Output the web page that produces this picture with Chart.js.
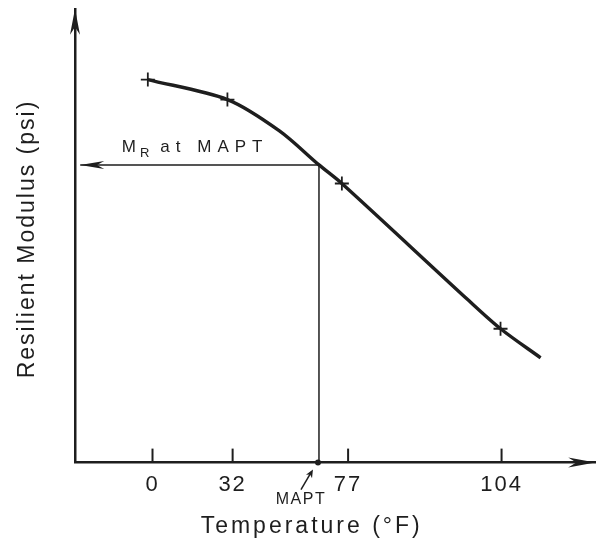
<!DOCTYPE html>
<html>
<head>
<meta charset="utf-8">
<script src="https://cdn.jsdelivr.net/npm/chart.js@4.4.1/dist/chart.umd.min.js"></script>
<style>
  html, body { margin: 0; padding: 0; background: #ffffff; }
  #wrap { width: 604px; height: 547px; position: relative; }
</style>
</head>
<body>
<div id="wrap"><canvas id="c" width="604" height="547"></canvas></div>
<script>
// ---- Data (schematic axis units 0..100) ----
const tempLabels   = ['0', '32', '77', '104'];        // test temperatures (°F)
const tickPos      = [14.9, 30.3, 52.5, 82.0];        // where those labels sit on the schematic axis
const testX        = [14.0, 29.3, 51.3, 81.8];        // test points (+)
const testMR       = [84.4, 80.0, 61.5, 29.5];
const curveX       = [14.0, 29.3, 39.3, 46.9, 51.3, 75.7, 81.8, 89.5];   // fitted M_R–temperature curve
const curveMR      = [84.4, 80.0, 73.1, 65.6, 61.5, 35.7, 29.5, 23.1];
const maptX        = 46.9;                             // MAPT position
const maptMR       = 65.6;                             // M_R at MAPT

const INK = '#1e1e1e';
const FONT = '"Liberation Sans", Arial, Helvetica, sans-serif';

const curvePts = curveX.map((x, i) => ({ x, y: curveMR[i] }));
const testPts  = testX.map((x, i) => ({ x, y: testMR[i] }));
const guidePts = [{ x: 1, y: maptMR }, { x: maptX, y: maptMR }, { x: maptX, y: 0 }];

function arrowHead(ctx, tx, ty, angle, len, halfW) {
  ctx.save();
  ctx.translate(tx, ty);
  ctx.rotate(angle);
  ctx.beginPath();
  ctx.moveTo(0, 0);
  ctx.lineTo(-len, -halfW);
  ctx.lineTo(-len * 0.7, 0);
  ctx.lineTo(-len, halfW);
  ctx.closePath();
  ctx.fillStyle = INK;
  ctx.fill();
  ctx.restore();
}

const decor = {
  id: 'decor',
  beforeDraw(chart) {
    const ctx = chart.ctx;
    ctx.save();
    ctx.fillStyle = '#ffffff';
    ctx.fillRect(0, 0, chart.width, chart.height);
    ctx.restore();
    ctx.letterSpacing = '2px';
  },
  afterDraw(chart) {
    const ctx = chart.ctx;
    const xs = chart.scales.x, ys = chart.scales.y;
    const x0 = xs.getPixelForValue(0), y0 = ys.getPixelForValue(0);
    ctx.save();
    // axis arrowheads
    arrowHead(ctx, x0, ys.getPixelForValue(100), -Math.PI / 2, 26, 5);
    arrowHead(ctx, xs.getPixelForValue(100), y0, 0, 27, 5);
    // inner tick marks
    ctx.strokeStyle = INK;
    ctx.lineWidth = 2;
    tickPos.forEach(v => {
      const px = xs.getPixelForValue(v);
      ctx.beginPath();
      ctx.moveTo(px, y0);
      ctx.lineTo(px, y0 - 14);
      ctx.stroke();
    });
    // M_R arrow at the y axis
    const mx = xs.getPixelForValue(maptX), my = ys.getPixelForValue(maptMR);
    arrowHead(ctx, xs.getPixelForValue(1), my, Math.PI, 24, 4);
    // dot at MAPT on the axis
    ctx.beginPath();
    ctx.arc(mx - 1, y0, 3, 0, Math.PI * 2);
    ctx.fillStyle = INK;
    ctx.fill();
    // small arrow pointing to MAPT
    ctx.lineWidth = 1.5;
    ctx.beginPath();
    ctx.moveTo(mx - 18, y0 + 27);
    ctx.lineTo(mx - 8, y0 + 10);
    ctx.stroke();
    arrowHead(ctx, mx - 6, y0 + 7, -Math.PI / 3, 8, 3.5);

    ctx.fillStyle = INK;
    ctx.textBaseline = 'alphabetic';
    // "M_R at MAPT"
    ctx.letterSpacing = '6px';
    ctx.textAlign = 'left';
    ctx.font = '17px ' + FONT;
    let tx = xs.getPixelForValue(9.0);
    const tb = my - 13;
    ctx.fillText('M', tx, tb);
    tx += ctx.measureText('M').width - 2;
    ctx.font = '13px ' + FONT;
    ctx.fillText('R', tx, tb + 5);
    tx += ctx.measureText('R').width + 5;
    ctx.font = '17px ' + FONT;
    ctx.fillText('at MAPT', tx, tb);

    // "MAPT" under the axis
    ctx.letterSpacing = '1.5px';
    ctx.textAlign = 'center';
    ctx.font = '16px ' + FONT;
    ctx.fillText('MAPT', mx - 18, y0 + 41);

    // axis titles
    const ca = chart.chartArea;
    ctx.letterSpacing = '3px';
    ctx.font = '23px ' + FONT;
    ctx.textBaseline = 'middle';
    ctx.fillText('Temperature (°F)', ca.left + 0.455 * (ca.right - ca.left), 527);
    ctx.save();
    ctx.translate(28, 239);
    ctx.rotate(-Math.PI / 2);
    ctx.letterSpacing = '2px';
    ctx.fillText('Resilient Modulus (psi)', 0, 0);
    ctx.restore();
    ctx.restore();
    ctx.letterSpacing = '0px';
  }
};

new Chart(document.getElementById('c'), {
  type: 'scatter',
  data: {
    datasets: [
      {
        type: 'line', data: guidePts, borderColor: INK, borderWidth: 1.5,
        pointRadius: 0, tension: 0, fill: false
      },
      {
        type: 'line', data: curvePts, borderColor: INK, borderWidth: 3.4,
        pointRadius: 0, tension: 0.3, fill: false
      },
      {
        data: testPts, pointStyle: 'cross', pointRadius: 7, borderColor: INK,
        backgroundColor: INK, borderWidth: 1.8
      }
    ]
  },
  options: {
    responsive: false,
    animation: false,
    events: [],
    layout: { padding: { left: 75, right: 7, top: 8, bottom: 40 } },
    plugins: { legend: { display: false }, tooltip: { enabled: false } },
    scales: {
      x: {
        type: 'linear', min: 0, max: 100,
        afterBuildTicks: (s) => { s.ticks = tickPos.map(v => ({ value: v })); },
        ticks: {
          autoSkip: false, maxRotation: 0, padding: 9, color: INK,
          font: { family: FONT, size: 22 },
          callback: (v, i) => tempLabels[i]
        },
        grid: { drawOnChartArea: false, drawTicks: false },
        border: { color: INK, width: 2.5 }
      },
      y: {
        type: 'linear', min: 0, max: 100,
        ticks: { display: false },
        grid: { drawOnChartArea: false, drawTicks: false },
        border: { color: INK, width: 2.5 }
      }
    }
  },
  plugins: [decor]
});
</script>
</body>
</html>
